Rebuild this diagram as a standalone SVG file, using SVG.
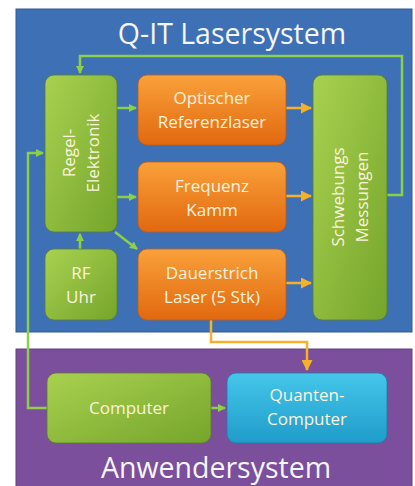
<svg xmlns="http://www.w3.org/2000/svg" width="415" height="486" viewBox="0 0 415 486">
<defs>
<linearGradient id="gGreen" x1="0" y1="0" x2="1" y2="1"><stop offset="0" stop-color="#a9d14f"/><stop offset="1" stop-color="#75a52c"/></linearGradient>
<linearGradient id="gOrange" x1="0" y1="0" x2="0" y2="1"><stop offset="0" stop-color="#f9a13a"/><stop offset="1" stop-color="#e2680f"/></linearGradient>
<linearGradient id="gCyan" x1="0" y1="0" x2="0" y2="1"><stop offset="0" stop-color="#45c6ea"/><stop offset="1" stop-color="#1f9cc9"/></linearGradient>
<marker id="aG" markerWidth="8" markerHeight="8" refX="7" refY="4" orient="auto" markerUnits="userSpaceOnUse"><path d="M0,0 L8,4 L0,8 z" fill="#8ccf4a"/></marker>
<marker id="aO" markerWidth="11" markerHeight="11" refX="10" refY="5.5" orient="auto" markerUnits="userSpaceOnUse"><path d="M0,0 L11,5.5 L0,11 z" fill="#f6b129"/></marker>
<style>
.box{stroke:#5a7d2a;stroke-width:0.8}
.ob{stroke:#c25a10;stroke-width:0.8}
.t{font-family:"Open Sans","DejaVu Sans",sans-serif;font-size:17px;fill:#fbf3dc;text-anchor:middle}
.h{font-family:"Open Sans","DejaVu Sans",sans-serif;font-size:28.5px;fill:#f4f6fa;text-anchor:middle}
.g{fill:none;stroke:#8ccf4a;stroke-width:2.5}
.o{fill:none;stroke:#f6b129;stroke-width:2.5}
</style>
</defs>
<rect x="0" y="0" width="415" height="486" fill="#ffffff"/>
<g id="lasersystem"><rect x="16" y="9" width="396" height="323" fill="#3e70b5" stroke="#2f5a94" stroke-width="1"/>
<text class="h" x="232" y="44">Q-IT Lasersystem</text></g>
<g id="anwendersystem"><rect x="16" y="349" width="396" height="140" fill="#7c4f9c" stroke="#634080" stroke-width="1"/>
<text class="h" x="216" y="478">Anwendersystem</text></g>
<g id="connectors">
<path class="g" d="M387,195 H402 V56 H80 V73" marker-end="url(#aG)"/>
<path class="g" d="M47,408 H28 V153 H43" marker-end="url(#aG)"/>
<path class="g" d="M117,108 H136" marker-end="url(#aG)"/>
<path class="g" d="M117,197 H136" marker-end="url(#aG)"/>
<path class="g" d="M115,232 L137,249" marker-end="url(#aG)"/>
<path class="g" d="M80,249 V234" marker-end="url(#aG)"/>
<path class="g" d="M211,408 H225" marker-end="url(#aG)"/>
<path class="o" d="M286,108 H311" marker-end="url(#aO)"/>
<path class="o" d="M286,196 H311" marker-end="url(#aO)"/>
<path class="o" d="M286,283 H311" marker-end="url(#aO)"/>
<path class="o" d="M211,320 V342 H307 V370" marker-end="url(#aO)"/>
</g>
<g id="regelelektronik"><rect class="box" x="45" y="75" width="72" height="157" rx="9" fill="url(#gGreen)"/>
<text class="t" transform="translate(81,153) rotate(-90)"><tspan x="0" y="-6">Regel-</tspan><tspan x="0" y="18">Elektronik</tspan></text></g>
<g id="referenzlaser"><rect class="ob" x="138" y="75" width="148" height="70" rx="9" fill="url(#gOrange)"/>
<text class="t"><tspan x="212" y="104">Optischer</tspan><tspan x="212" y="128">Referenzlaser</tspan></text></g>
<g id="frequenzkamm"><rect class="ob" x="138" y="162" width="148" height="70" rx="9" fill="url(#gOrange)"/>
<text class="t"><tspan x="212" y="192">Frequenz</tspan><tspan x="212" y="216">Kamm</tspan></text></g>
<g id="dauerstrichlaser"><rect class="ob" x="138" y="249" width="148" height="71" rx="9" fill="url(#gOrange)"/>
<text class="t"><tspan x="212" y="279">Dauerstrich</tspan><tspan x="212" y="303">Laser (5 Stk)</tspan></text></g>
<g id="rfuhr"><rect class="box" x="45" y="249" width="72" height="71" rx="9" fill="url(#gGreen)"/>
<text class="t"><tspan x="81" y="279">RF</tspan><tspan x="81" y="303">Uhr</tspan></text></g>
<g id="schwebungsmessungen"><rect class="box" x="313" y="75" width="74" height="245" rx="9" fill="url(#gGreen)"/>
<text class="t" transform="translate(350,197) rotate(-90)"><tspan x="0" y="-6">Schwebungs</tspan><tspan x="0" y="18">Messungen</tspan></text></g>
<g id="computer"><rect class="box" x="47" y="373" width="164" height="70" rx="9" fill="url(#gGreen)"/>
<text class="t" x="129" y="414">Computer</text></g>
<g id="quantencomputer"><rect x="227" y="373" width="160" height="70" rx="9" fill="url(#gCyan)" stroke="#1a7fa5" stroke-width="0.8"/>
<text class="t"><tspan x="307" y="401">Quanten-</tspan><tspan x="307" y="425">Computer</tspan></text></g>
</svg>
